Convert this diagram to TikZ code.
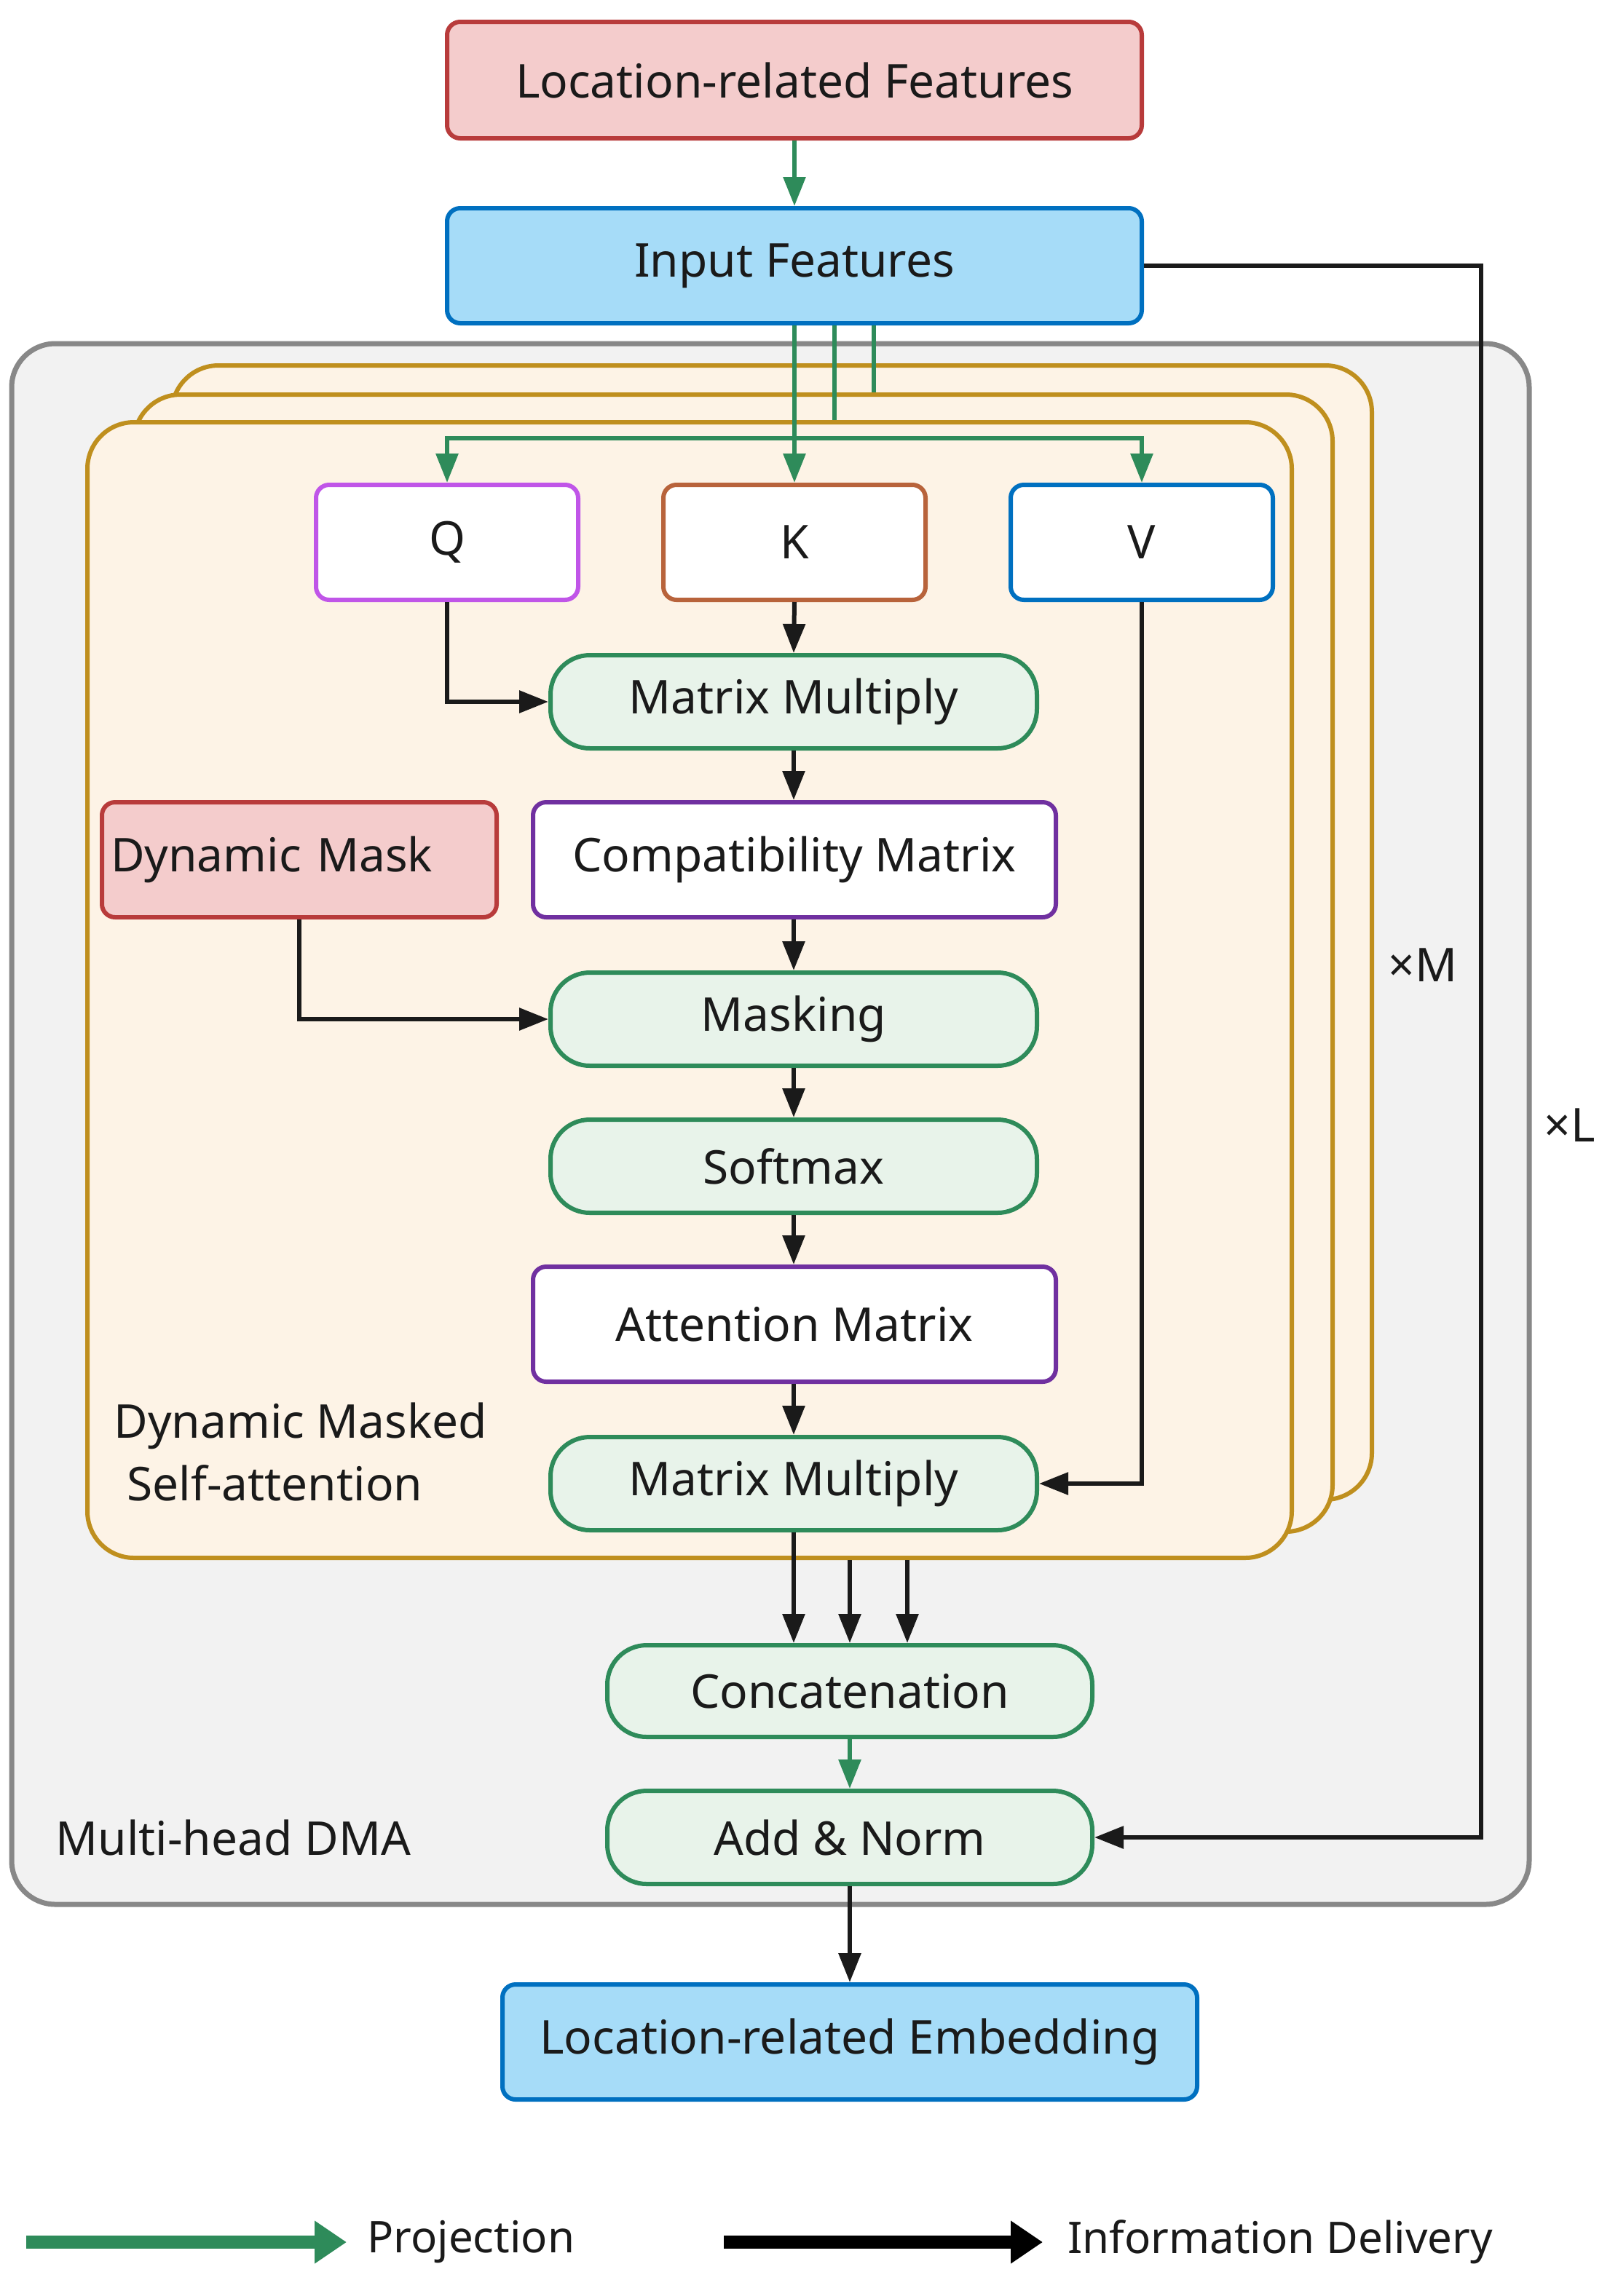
\documentclass[tikz,border=0pt]{standalone}
\usepackage{fontspec}
\setmainfont{Noto Sans}
\usetikzlibrary{arrows.meta}
\definecolor{txt}{HTML}{1A1A1A}
\definecolor{pinkF}{HTML}{F4CCCC}
\definecolor{pinkD}{HTML}{B83B3B}
\definecolor{blueF}{HTML}{A6DCF8}
\definecolor{blueD}{HTML}{0070C0}
\definecolor{grayF}{HTML}{F2F2F2}
\definecolor{grayD}{HTML}{888888}
\definecolor{oraF}{HTML}{FDF3E6}
\definecolor{oraD}{HTML}{BF8F1E}
\definecolor{grnF}{HTML}{E8F3EA}
\definecolor{grnD}{HTML}{2E8B5A}
\definecolor{qD}{HTML}{C055E8}
\definecolor{kD}{HTML}{B8633B}
\definecolor{purD}{HTML}{7030A0}
\tikzset{
  base/.style={line width=3pt, inner sep=0pt, text=txt, font=\fontsize{32}{43}\selectfont},
  pinkbox/.style={base, draw=pinkD, fill=pinkF, rounded corners=9pt},
  bluebox/.style={base, draw=blueD, fill=blueF, rounded corners=9pt},
  whitebox/.style={base, fill=white, rounded corners=9pt},
  pill/.style={base, draw=grnD, fill=grnF, rounded corners=27pt, minimum width=334pt, minimum height=64pt},
  headbox/.style={base, draw=oraD, fill=oraF, rounded corners=32pt},
  outerbox/.style={base, line width=3.5pt, draw=grayD, fill=grayF, rounded corners=30pt},
  lbl/.style={text=txt, inner sep=0pt, font=\fontsize{32}{43}\selectfont},
  leg/.style={text=txt, inner sep=0pt, font=\fontsize{30}{36}\selectfont},
  info/.style={line width=3pt, draw=txt, -{Triangle[length=20pt,width=15pt]}},
  infoplain/.style={line width=3pt, draw=txt},
  proj/.style={line width=3pt, draw=grnD, -{Triangle[length=20pt,width=15pt]}},
  projplain/.style={line width=3pt, draw=grnD},
}
\begin{document}
\begin{tikzpicture}[x=1pt, y=-1pt]
\useasboundingbox (0,0) rectangle (1111,1577);
\fill[white] (0,0) rectangle (1111,1577);

% containers
\node[outerbox, minimum width=1042pt, minimum height=1072pt] (outer) at (529,772) {};
\node[headbox, minimum width=824pt, minimum height=779pt] (back) at (530,640.5) {};
\node[headbox, minimum width=823pt, minimum height=781pt] (mid) at (503.5,661.5) {};
\node[headbox, minimum width=827pt, minimum height=780pt] (front) at (473.5,680) {};

% top boxes
\node[pinkbox, minimum width=477pt, minimum height=80pt] (lrf) at (545.5,55) {Location-related Features};
\node[bluebox, minimum width=477pt, minimum height=79pt] (inf) at (545.5,182.5) {Input Features};

% Q K V
\node[whitebox, draw=qD, minimum width=180pt, minimum height=79pt] (Q) at (307,372.5) {Q};
\node[whitebox, draw=kD, minimum width=180pt, minimum height=79pt] (K) at (545.5,372.5) {K};
\node[whitebox, draw=blueD, minimum width=180pt, minimum height=79pt] (V) at (784,372.5) {V};

% inner pipeline
\node[pill] (mm1) at (545,482) {Matrix Multiply};
\node[whitebox, draw=purD, minimum width=359pt, minimum height=79pt] (cm) at (545.5,590.5) {Compatibility Matrix};
\node[pinkbox, minimum width=271pt, minimum height=79pt, text width=259pt, inner xsep=6pt, align=left] (dm) at (205.5,590.5) {Dynamic Mask};
\node[pill] (mask) at (545,700) {Masking};
\node[pill] (soft) at (545,801) {Softmax};
\node[whitebox, draw=purD, minimum width=359pt, minimum height=79pt] (am) at (545.5,909.5) {Attention Matrix};
\node[pill] (mm2) at (545,1019) {Matrix Multiply};

\node[lbl, anchor=north west, align=left] (dmsa) at (78,963) {Dynamic Masked\\\hspace{9pt}Self-attention};

% bottom
\node[pill, minimum width=333pt, minimum height=63pt] (cat) at (583.5,1161.5) {Concatenation};
\node[pill, minimum width=333pt] (an) at (583.5,1262) {Add \& Norm};
\node[bluebox, minimum width=477pt, minimum height=79pt] (lre) at (583.5,1402.5) {Location-related Embedding};

\node[lbl, anchor=west] (mhd) at (38,1262) {Multi-head DMA};
\node[lbl] (xm) at (977,663) {×M};
\node[lbl] (xl) at (1078,773) {×L};

% helper coordinates
\coordinate (c2) at (573,0);
\coordinate (c3) at (600,0);
\coordinate (hj) at (545.5,301);
\coordinate (d2) at (583.5,0);
\coordinate (d3) at (623,0);
\coordinate (sk) at (1017,0);

% projection connectors
\draw[proj] (lrf.south) -- (inf.north);
\draw[projplain] (inf.south -| c2) -- (front.north -| c2);
\draw[projplain] (inf.south -| c3) -- (mid.north -| c3);
\draw[proj] (inf.south) -- (K.north);
\draw[proj] (hj) -| (Q.north);
\draw[proj] (hj) -| (V.north);

% information connectors
\draw[info] (K.south) -- (mm1.north);
\draw[info] (Q.south) |- (mm1.west);
\draw[info] (mm1.south) -- (mm1.south |- cm.north);
\draw[info] (dm.south) |- (mask.west);
\draw[info] (cm.south -| mask.north) -- (mask.north);
\draw[info] (mask.south) -- (soft.north);
\draw[info] (soft.south) -- (soft.south |- am.north);
\draw[info] (am.south -| mm2.north) -- (mm2.north);
\draw[info] (V.south) |- (mm2.east);
\draw[info] (mm2.south) -- (mm2.south |- cat.north);
\draw[info] (front.south -| d2) -- (cat.north);
\draw[info] (front.south -| d3) -- (cat.north -| d3);
\draw[proj] (cat.south) -- (an.north);
\draw[info] (an.south) -- (lre.north);
\draw[info] (inf.east) -- (inf.east -| sk) |- (an.east);

% legend
\coordinate (lg1) at (18,1540);
\coordinate (lg1e) at (238,1540);
\coordinate (lg2) at (497,1540);
\coordinate (lg2e) at (716,1540);
\draw[line width=9pt, draw=grnD, -{Triangle[length=22pt,width=28pt]}] (lg1) -- (lg1e);
\draw[line width=9pt, draw=black, -{Triangle[length=22pt,width=28pt]}] (lg2) -- (lg2e);
\node[leg, anchor=west] (lp) at (252,1540) {Projection};
\node[leg, anchor=west] (li) at (733,1540) {Information Delivery};
\end{tikzpicture}
\end{document}
